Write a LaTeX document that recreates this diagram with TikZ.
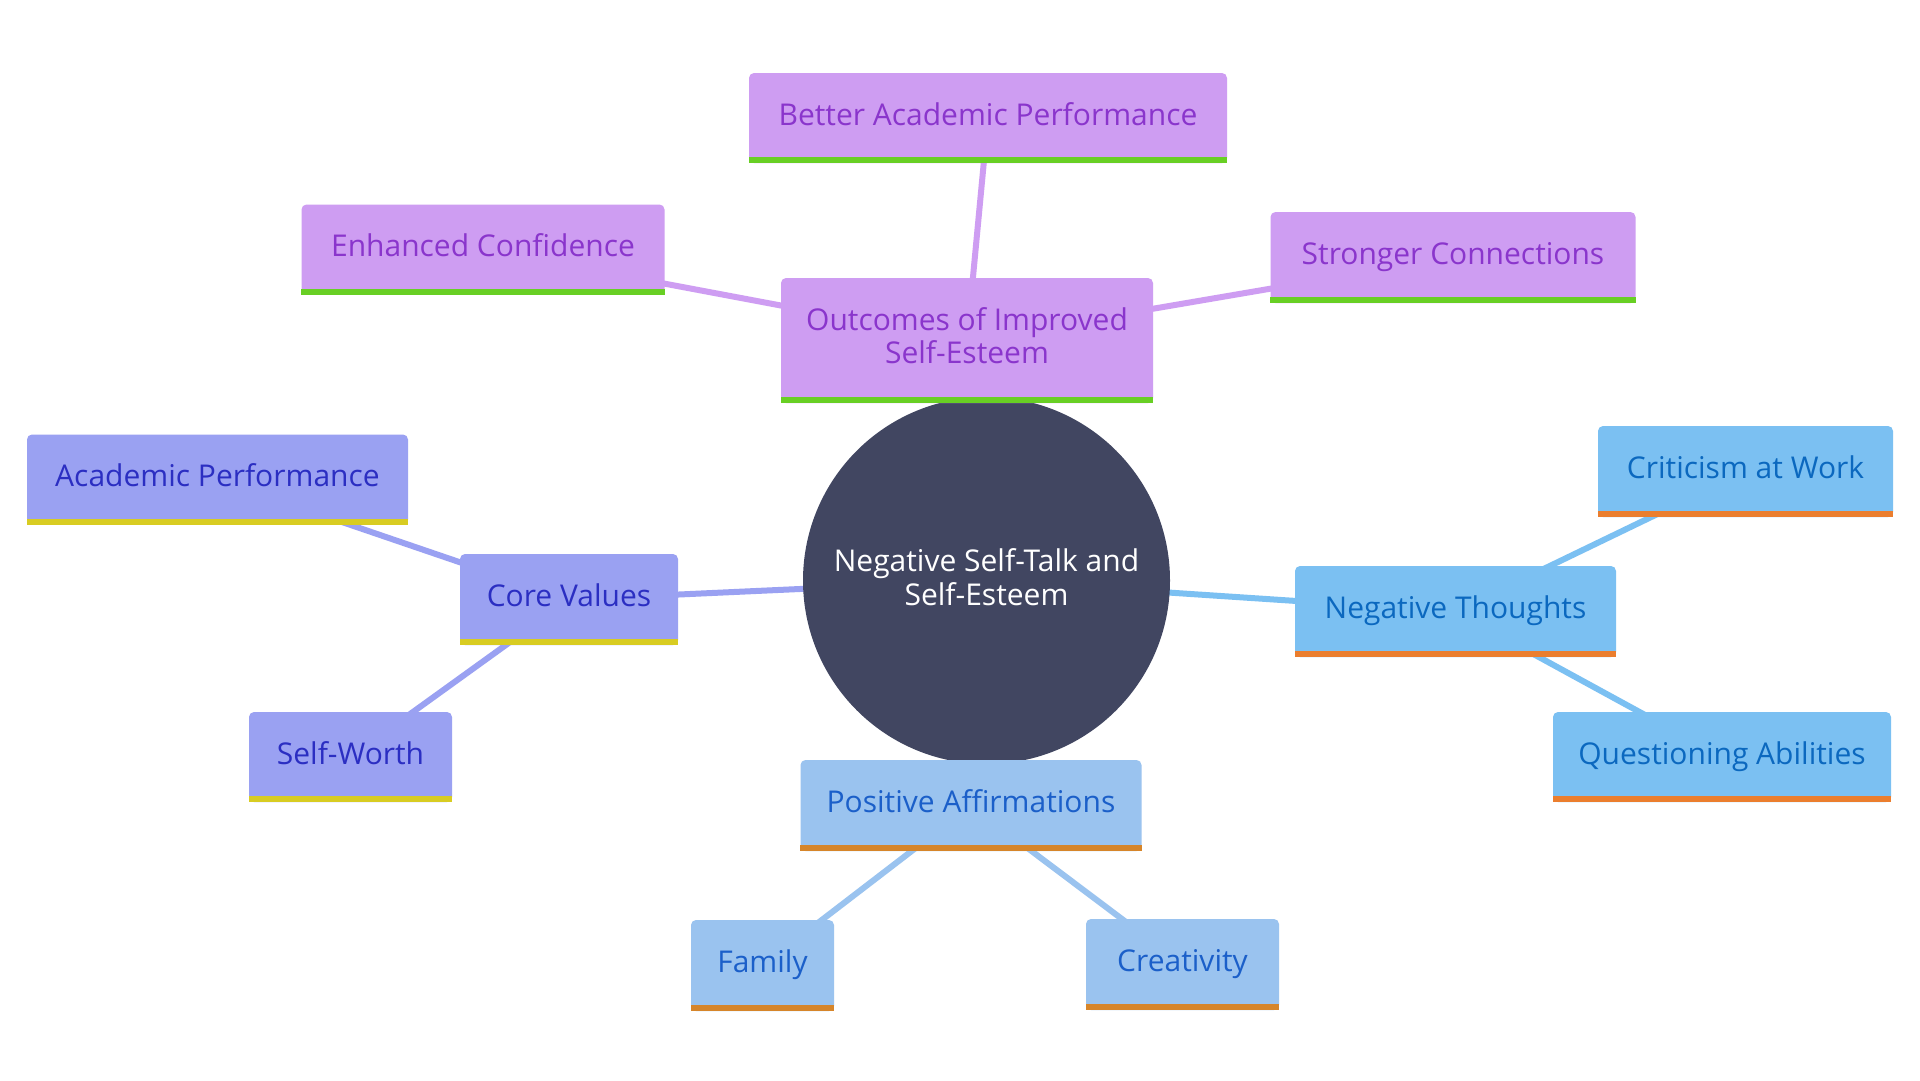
\documentclass[tikz,border=0pt]{standalone}
\usepackage{fontspec}
\setmainfont{Open Sans}
\usetikzlibrary{backgrounds}
\definecolor{pfill}{HTML}{CE9DF2}
\definecolor{ptext}{HTML}{8A35CC}
\definecolor{pbar}{HTML}{68CF24}
\definecolor{vfill}{HTML}{9AA1F2}
\definecolor{vtext}{HTML}{2B2EC2}
\definecolor{vbar}{HTML}{D8CC22}
\definecolor{bfill}{HTML}{7BC0F2}
\definecolor{btext}{HTML}{0B68BF}
\definecolor{bbar}{HTML}{EB7E2E}
\definecolor{lfill}{HTML}{9AC3EF}
\definecolor{ltext}{HTML}{1B5FC9}
\definecolor{lbar}{HTML}{D6852A}
\definecolor{hub}{HTML}{414661}
\newcommand\twoline[3]{\vtop{\baselineskip=#3\relax\lineskip=0pt\lineskiplimit=0pt\halign{\hfil##\hfil\cr#1\cr#2\cr}}}
\newcommand\mmnode[8]{%
  \node[#1, minimum width=#5pt, minimum height=#6pt] (#2) at (#3,#4) {#7};
  \fill[#8] ([yshift=6pt]#2.south west) rectangle (#2.south east);}
\begin{document}
\begin{tikzpicture}[x=1pt,y=-1pt,
  box/.style={rectangle, rounded corners=5pt, inner sep=0pt, text height=22pt, text depth=8pt,
    font=\fontsize{30}{33}\selectfont},
  pbox/.style={box, fill=pfill, text=ptext},
  vbox/.style={box, fill=vfill, text=vtext},
  bbox/.style={box, fill=bfill, text=btext},
  lbox/.style={box, fill=lfill, text=ltext},
  edge/.style={line width=6pt},
  hubnode/.style={circle, fill=hub, text=white, inner sep=0pt, minimum size=367pt,
    text height=22pt, text depth=39.6pt, font=\fontsize{30}{34}\selectfont}]
\useasboundingbox (0,0) rectangle (1920,1080);
% hub
\node[hubnode] (hub) at (986.5,580.5) {\twoline{Negative Self-Talk and}{Self-Esteem}{34pt}};
% purple group
\mmnode{pbox, text depth=43pt}{out}{967}{340.5}{372}{125}{\twoline{Outcomes of Improved}{Self-Esteem}{33pt}}{pbar}
\mmnode{pbox}{bap}{988}{118}{478}{90}{Better Academic Performance}{pbar}
\mmnode{pbox}{ec}{483}{249.5}{363}{90}{Enhanced Confidence}{pbar}
\mmnode{pbox}{sc}{1453}{257.5}{365}{91}{Stronger Connections}{pbar}
% periwinkle group
\mmnode{vbox}{cv}{569}{599.5}{218}{91}{Core Values}{vbar}
\mmnode{vbox}{ap}{217.5}{479.5}{381}{90}{Academic Performance}{vbar}
\mmnode{vbox}{sw}{350.5}{757}{203}{90}{Self-Worth}{vbar}
% blue group
\mmnode{bbox}{nt}{1455.5}{611.5}{321}{91}{Negative Thoughts}{bbar}
\mmnode{bbox}{cw}{1745.5}{471.5}{295}{91}{Criticism at Work}{bbar}
\mmnode{bbox}{qa}{1722}{757}{338}{90}{Questioning Abilities}{bbar}
% light blue group
\mmnode{lbox}{pa}{971}{805.5}{341}{91}{Positive Affirmations}{lbar}
\mmnode{lbox}{fa}{762.5}{965.5}{143}{91}{Family}{lbar}
\mmnode{lbox}{cr}{1182.5}{964.5}{193}{91}{Creativity}{lbar}
% connectors
\begin{pgfonlayer}{background}
  \fill[white] (0,0) rectangle (1920,1080);
  \draw[edge, pfill] (hub.center) -- (out.center);
  \draw[edge, pfill] (out.center) -- (bap.center);
  \draw[edge, pfill] (out.center) -- (ec.center);
  \draw[edge, pfill] (out.center) -- (sc.center);
  \draw[edge, vfill] (hub.center) -- (cv.center);
  \draw[edge, vfill] (cv.center) -- (ap.center);
  \draw[edge, vfill] (cv.center) -- (sw.center);
  \draw[edge, bfill] (hub.center) -- (nt.center);
  \draw[edge, bfill] (nt.center) -- (cw.center);
  \draw[edge, bfill] (nt.center) -- (qa.center);
  \draw[edge, lfill] (hub.center) -- (pa.center);
  \draw[edge, lfill] (pa.center) -- (fa.center);
  \draw[edge, lfill] (pa.center) -- (cr.center);
\end{pgfonlayer}
\end{tikzpicture}
\end{document}
